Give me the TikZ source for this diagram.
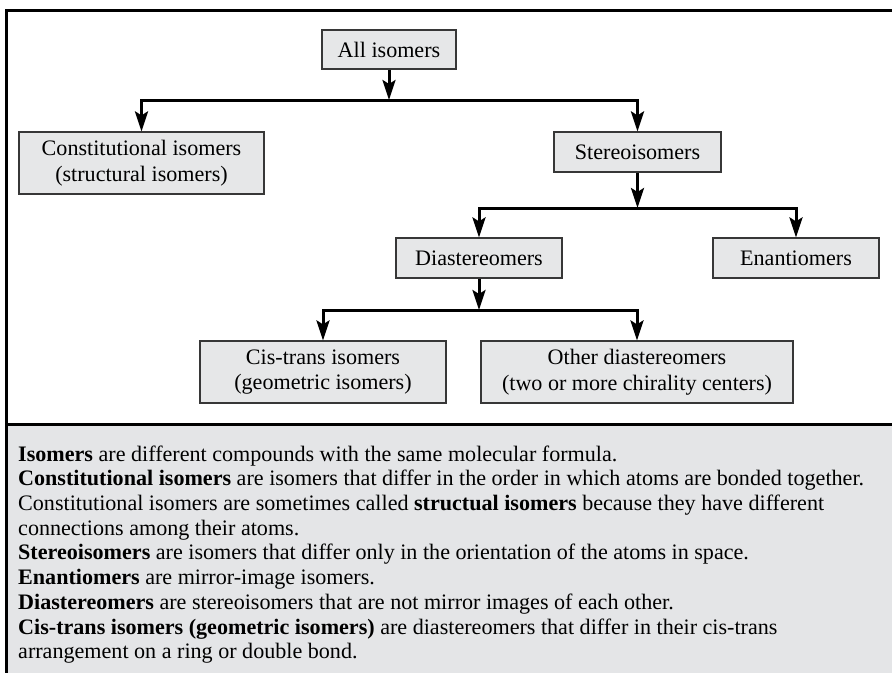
\documentclass[tikz,border=0pt]{standalone}
\usepackage{fontspec}
\setmainfont{Liberation Serif}
\usepackage{tikz}
\usetikzlibrary{arrows.meta,positioning}
\definecolor{boxgray}{RGB}{230,231,232}
\definecolor{panelgray}{RGB}{228,229,231}
\definecolor{edgegray}{RGB}{55,55,55}

\begin{document}
\begin{tikzpicture}[x=1pt,y=-1pt]
                \tikzstyle{every node}+=[inner sep=0pt]
                \tikzstyle{isobox}=[draw=edgegray, line width=1.2pt, fill=boxgray, align=center, font=\fontsize{22.1}{25.5}\selectfont]
                \tikzstyle{branch}=[black, line width=3pt, line join=miter, -{Stealth[length=20pt,width=13pt,inset=4pt]}]
                \tikzstyle{defline}=[anchor=base west, font=\fontsize{22.1}{24.6}\selectfont]
                \useasboundingbox (0,0) rectangle (892,673);
                % frame and lower panel
                \fill [panelgray] (6.5,424.5) rectangle (892,673);
                \draw [black, line width=2.5pt] (892,10.5) -- (6.5,10.5) -- (6.5,673);
                \draw [black, line width=3pt] (6.5,424.5) -- (892,424.5);
                % boxes
                \node [isobox, minimum width=134, minimum height=39] (all) at (389,49.5) {All isomers};
                \node [isobox, minimum width=245, minimum height=62] (const) at (141.5,163) {Constitutional isomers\\(structural isomers)};
                \node [isobox, minimum width=167, minimum height=40] (stereo) at (637.5,152) {Stereoisomers};
                \node [isobox, minimum width=166, minimum height=40] (dia) at (479,258) {Diastereomers};
                \node [isobox, minimum width=166, minimum height=40] (enan) at (796,258) {Enantiomers};
                \node [isobox, minimum width=246, minimum height=62] (cis) at (323,372) {Cis-trans isomers\\(geometric isomers)};
                \node [isobox, minimum width=312, minimum height=62] (other) at (637,372) {Other diastereomers\\(two or more chirality centers)};
                % joints of the branches
                \coordinate (j1) at (389,100);
                \coordinate (j2) at (637.5,208);
                \coordinate (j3) at (479,310);
                % connectors
                \draw [branch] (all.south) -- (j1);
                \draw [branch] (j1) -| (const.north);
                \draw [branch] (j1) -| (stereo.north);
                \draw [branch] (stereo.south) -- (j2);
                \draw [branch] (j2) -| (dia.north);
                \draw [branch] (j2) -| (enan.north);
                \draw [branch] (dia.south) -- (j3);
                \draw [branch] (j3) -| (cis.north);
                \draw [branch] (j3) -| (other.north);
                % definitions
                \node [defline] (l1) at (18,461) {\textbf{Isomers} are different compounds with the same molecular formula.};
                \node [defline] (l2) at (18,485.5) {\textbf{Constitutional isomers} are isomers that differ in the order in which atoms are bonded together.};
                \node [defline] (l3) at (18,510) {Constitutional isomers are sometimes called \textbf{structual isomers} because they have different};
                \node [defline] (l4) at (18,535) {connections among their atoms.};
                \node [defline] (l5) at (18,559.5) {\textbf{Stereoisomers} are isomers that differ only in the orientation of the atoms in space.};
                \node [defline] (l6) at (18,584) {\textbf{Enantiomers} are mirror-image isomers.};
                \node [defline] (l7) at (18,609) {\textbf{Diastereomers} are stereoisomers that are not mirror images of each other.};
                \node [defline] (l8) at (18,634) {\textbf{Cis-trans isomers (geometric isomers)} are diastereomers that differ in their cis-trans};
                \node [defline] (l9) at (18,658.5) {arrangement on a ring or double bond.};
\end{tikzpicture}
\end{document}
